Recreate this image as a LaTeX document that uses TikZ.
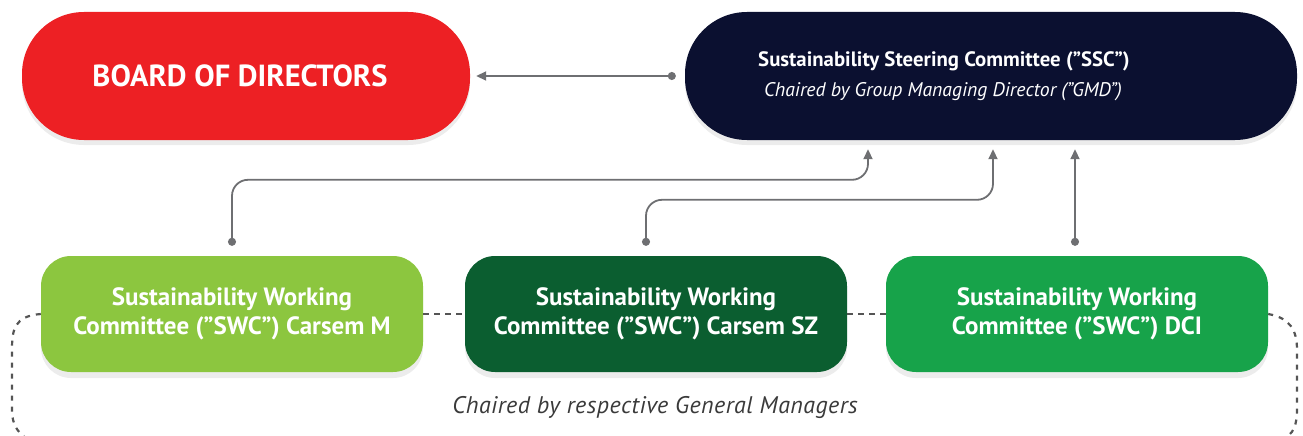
\documentclass[tikz,border=0pt]{standalone}
\usepackage{fontspec}
\setmainfont{PT Sans}
\usetikzlibrary{arrows.meta,calc,shadows}

\definecolor{boardred}{HTML}{ED2024}
\definecolor{sscnavy}{HTML}{0B1030}
\definecolor{greenlight}{HTML}{8CC63F}
\definecolor{greendark}{HTML}{0B5E30}
\definecolor{greenmid}{HTML}{17A34A}
\definecolor{linkgray}{HTML}{6E6F72}
\definecolor{dashgray}{HTML}{555555}
\definecolor{notegray}{HTML}{3A3A3A}

\tikzset{
  pill/.style={rectangle, rounded corners=62pt, text=white, align=center,
    drop shadow={opacity=0.15, shadow xshift=0pt, shadow yshift=-5pt}},
  wcbox/.style={rectangle, rounded corners=30pt, minimum width=382pt, minimum height=116pt,
    text=white, align=center, font=\fontsize{25}{29}\selectfont\bfseries,
    drop shadow={opacity=0.15, shadow xshift=0pt, shadow yshift=-6pt}},
  link/.style={draw=linkgray, line width=1.8pt, rounded corners=16pt,
    {Circle[length=8pt]}-{Triangle[length=10pt,width=9pt]}},
  peer/.style={draw=dashgray, line width=2.6pt, dash pattern=on 6pt off 5pt},
}

\begin{document}
\begin{tikzpicture}[x=1pt,y=-1pt]
\useasboundingbox (0,0) rectangle (1303,436);

% top row
\node[pill, fill=boardred, minimum width=448pt, minimum height=128pt,
      font=\fontsize{30.5}{34}\selectfont\bfseries] (board) at (246,76)
  {\hspace*{-12pt}BOARD OF DIRECTORS};
\node[pill, fill=sscnavy, minimum width=612pt, minimum height=128pt] (ssc) at (991,76)
  {\hspace*{-94pt}{\fontsize{20.8}{30}\selectfont\bfseries Sustainability Steering Committee (”SSC”)}\\[10pt]
   \hspace*{-96pt}{\fontsize{19.7}{26}\selectfont\itshape Chaired by Group Managing Director (”GMD”)}};

% working committees
\node[wcbox, fill=greenlight] (swcm) at (232,314) {Sustainability Working\\Committee (”SWC”) Carsem M};
\node[wcbox, fill=greendark]  (swcsz) at (656,314) {Sustainability Working\\Committee (”SWC”) Carsem SZ};
\node[wcbox, fill=greenmid]   (swcdci) at (1077,314) {Sustainability Working\\Committee (”SWC”) DCI};

% reporting lines
\draw[link, shorten <=9pt, shorten >=6pt] (ssc.west) -- (board.east);
\draw[link, shorten <=10pt, shorten >=9pt]
  (swcm.north) -- ++(0,-76) -| ($(ssc.south)+(-123,0)$);
\draw[link, shorten <=10pt, shorten >=9pt]
  ($(swcsz.north)+(-10,0)$) -- ++(0,-56) -| ($(ssc.south)+(2,0)$);
\draw[link, shorten <=10pt, shorten >=9pt]
  ($(swcdci.north)+(-2,0)$) -- ($(ssc.south)+(84,0)$);

% peer links
\draw[peer] (swcm.east) -- (swcsz.west);
\draw[peer] (swcsz.east) -- (swcdci.west);

% bracket grouping the working committees
\coordinate (bl) at (24,436);
\coordinate (br) at (1288,436);
\draw[peer, line width=2.2pt, dash pattern=on 5pt off 6pt]
  (swcm.west) .. controls (14,316) and (12,330) .. (12,350) -- (12,410)
  .. controls (12,425) and (18,432) .. (bl);
\draw[peer, line width=2.2pt, dash pattern=on 5pt off 6pt]
  (swcdci.east) .. controls (1290,318) and (1297,330) .. (1297,350) -- (1297,410)
  .. controls (1297,425) and (1293,432) .. (br);

\node[text=notegray, font={\fontsize{24}{28}\selectfont\addfontfeatures{LetterSpace=2}\itshape}] (note) at (655,407)
  {Chaired by respective General Managers};
\end{tikzpicture}
\end{document}
